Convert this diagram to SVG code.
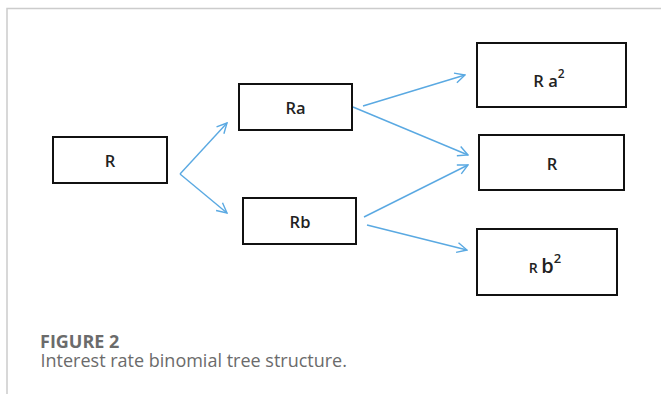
<svg xmlns="http://www.w3.org/2000/svg" width="661" height="394" viewBox="0 0 661 394">
  <style>
    .box { fill: #ffffff; stroke: #111111; stroke-width: 2; }
    .lbl { font-family: "Open Sans", "Liberation Sans", sans-serif; font-size: 16.5px; font-weight: 600; fill: #222222; text-anchor: middle; }
    .sup { font-size: 12px; }
    .edge { stroke: #5aa9e2; stroke-width: 1.4; fill: none; marker-end: url(#open); }
    .frame { stroke: #cccccc; stroke-width: 1.5; fill: none; }
    .capt { font-family: "Open Sans", "Liberation Sans", sans-serif; fill: #6b6b6b; }
  </style>
  <defs>
    <marker id="open" viewBox="0 0 12 12" refX="11" refY="6" markerWidth="12" markerHeight="12" markerUnits="userSpaceOnUse" orient="auto">
      <path d="M1,1 L11,6 L1,11" fill="none" stroke="#5aa9e2" stroke-width="1.4"/>
    </marker>
  </defs>

  <rect width="661" height="394" fill="#ffffff"/>
  <path class="frame" d="M7,394 V8.5 H661"/>

  <g id="connectors">
    <line class="edge" x1="180" y1="174" x2="227" y2="123"/>
    <line class="edge" x1="180" y1="174" x2="227" y2="213"/>
    <line class="edge" x1="363" y1="106" x2="465" y2="75"/>
    <line class="edge" x1="353" y1="107" x2="468" y2="155"/>
    <line class="edge" x1="364" y1="217" x2="468" y2="165"/>
    <line class="edge" x1="367" y1="225" x2="467" y2="250"/>
  </g>

  <g id="node-r">
    <rect class="box" x="53" y="137" width="114" height="46"/>
    <text class="lbl" x="110" y="167">R</text>
  </g>
  <g id="node-ra">
    <rect class="box" x="239" y="84" width="113" height="46"/>
    <text class="lbl" x="295.5" y="114">Ra</text>
  </g>
  <g id="node-rb">
    <rect class="box" x="243" y="198" width="113" height="46"/>
    <text class="lbl" x="300" y="228">Rb</text>
  </g>
  <g id="node-ra2">
    <rect class="box" x="477" y="43" width="149" height="64"/>
    <text class="lbl" x="549" y="87">R a<tspan class="sup" dy="-9">2</tspan></text>
  </g>
  <g id="node-r-mid">
    <rect class="box" x="479" y="135" width="145" height="55"/>
    <text class="lbl" x="552" y="170">R</text>
  </g>
  <g id="node-rb2">
    <rect class="box" x="477" y="229" width="140" height="66"/>
    <text class="lbl" x="545" y="273"><tspan font-size="14">R </tspan><tspan font-size="20">b</tspan><tspan font-size="13" dy="-10">2</tspan></text>
  </g>

  <text class="capt" x="40" y="348" font-size="18" font-weight="700">FIGURE 2</text>
  <text class="capt" x="40.5" y="367" font-size="18">Interest rate binomial tree structure.</text>
</svg>
